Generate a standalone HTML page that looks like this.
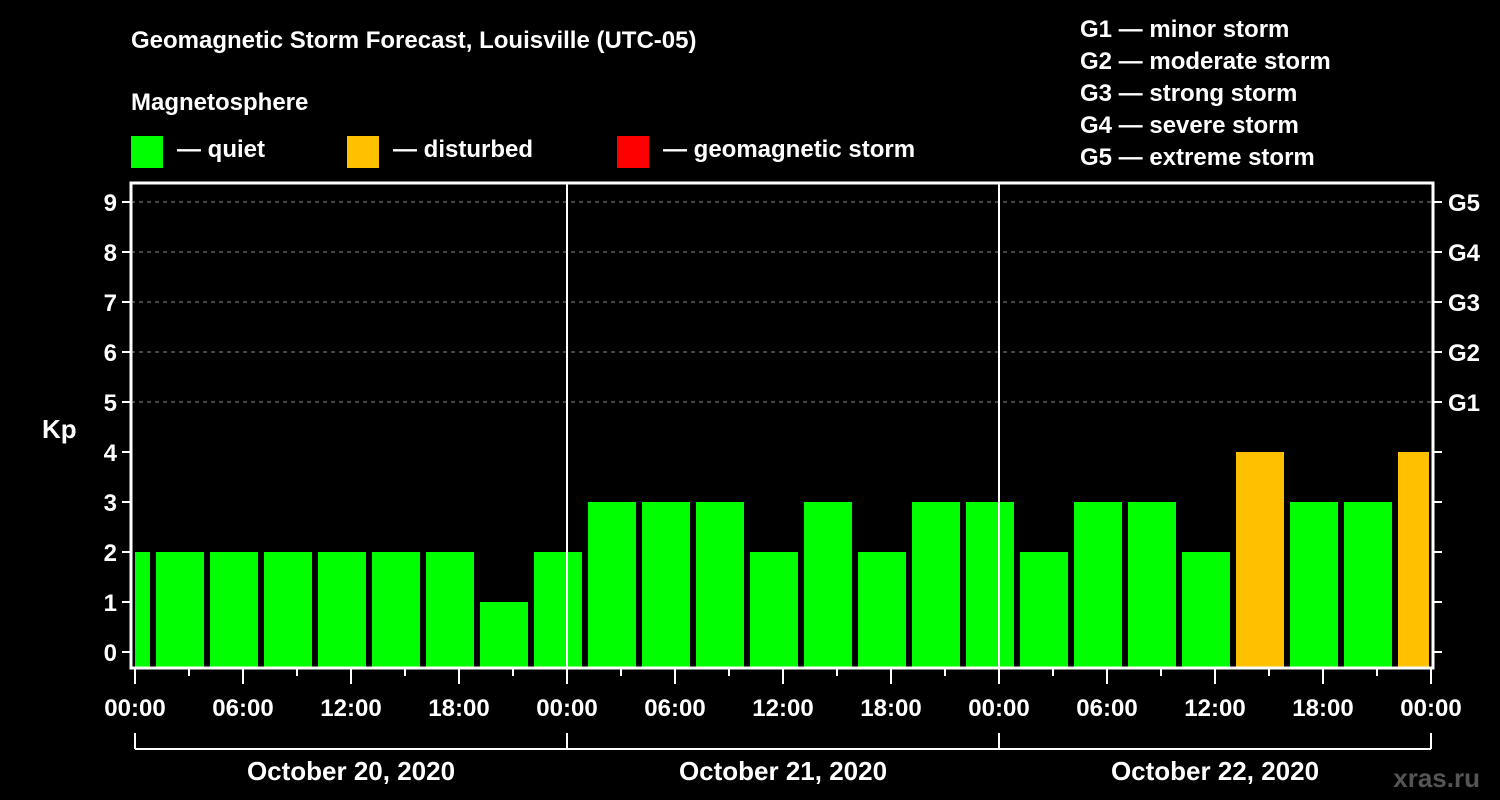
<!DOCTYPE html>
<html><head><meta charset="utf-8"><style>
body{margin:0;background:#000;}
svg{display:block;font-family:"Liberation Sans",Arial,sans-serif;font-weight:bold;}
</style></head><body>
<svg id="c" width="1500" height="800" viewBox="0 0 1500 800">
<rect width="1500" height="800" fill="#000"/>
<text x="131" y="48" fill="#fff" font-size="24">Geomagnetic Storm Forecast, Louisville (UTC-05)</text>
<text x="131" y="110" fill="#fff" font-size="24">Magnetosphere</text>
<g><rect x="131" y="136" width="32" height="32" fill="#00ff00"/><text x="177" y="157" fill="#fff" font-size="24">— quiet</text></g>
<g><rect x="347" y="136" width="32" height="32" fill="#ffc000"/><text x="393" y="157" fill="#fff" font-size="24">— disturbed</text></g>
<g><rect x="617" y="136" width="32" height="32" fill="#ff0000"/><text x="663" y="157" fill="#fff" font-size="24">— geomagnetic storm</text></g>
<g fill="#fff" font-size="24">
<text x="1080" y="37">G1 — minor storm</text>
<text x="1080" y="69">G2 — moderate storm</text>
<text x="1080" y="101">G3 — strong storm</text>
<text x="1080" y="133">G4 — severe storm</text>
<text x="1080" y="165">G5 — extreme storm</text>
</g>
<text x="42" y="438" fill="#fff" font-size="26">Kp</text>
<text x="1588" y="787" fill="#555" font-size="26" text-anchor="end" transform="translate(-108,0)">xras.ru</text>
<g id="grid"></g><g id="bars"></g><g id="axes"></g>
</svg>
<script>
const kpValues=[2,2,2,2,2,2,2,1,2,3,3,3,2,3,2,3,3,2,3,3,2,4,3,3,4];
const barStartHours=[-2,1,4,7,10,13,16,19,22,25,28,31,34,37,40,43,46,49,52,55,58,61,64,67,70];
const yTicks=[0,1,2,3,4,5,6,7,8,9];
const gLabels=[[5,"G1"],[6,"G2"],[7,"G3"],[8,"G4"],[9,"G5"]];
const dayLabels=["October 20, 2020","October 21, 2020","October 22, 2020"];
const hourLabels=["00:00","06:00","12:00","18:00"];
const NS="http://www.w3.org/2000/svg";
const X0=135,PXH=18,L=131,R=1433,T=183,B=668;
const xs=h=>X0+h*PXH, ys=v=>652-v*50;
function mk(t,a,p){const e=document.createElementNS(NS,t);for(const k in a)e.setAttribute(k,a[k]);p.appendChild(e);return e;}
const grid=document.getElementById('grid'),bars=document.getElementById('bars'),axes=document.getElementById('axes');
yTicks.forEach(v=>{
 if(v>=5){const g=mk('line',{x1:L,x2:R,y1:ys(v),y2:ys(v),stroke:'#888','stroke-dasharray':'4 4','stroke-width':1},grid);
 
 }
 mk('line',{x1:L-9,x2:L,y1:ys(v),y2:ys(v),stroke:'#fff','stroke-width':2},axes);
 mk('line',{x1:R,x2:R+9,y1:ys(v),y2:ys(v),stroke:'#fff','stroke-width':2},axes);
 const t=mk('text',{x:L-14,y:ys(v)+9,fill:'#fff','font-size':24,'text-anchor':'end'},axes);t.textContent=v;
 
 
});
gLabels.forEach(([v,s])=>{const t=mk('text',{x:1448,y:ys(v)+9,fill:'#fff','font-size':24},axes);t.textContent=s;
 
 });
kpValues.forEach((v,i)=>{
 let x1=xs(barStartHours[i])+3,x2=xs(barStartHours[i]+3)-3;
 x1=Math.max(x1,L+4);x2=Math.min(x2,R-4);
 const col=v>=5?'#ff0000':v>=4?'#ffc000':'#00ff00';
 const r=mk('rect',{x:x1,y:ys(v),width:x2-x1,height:B-ys(v),fill:col},bars);
 
 
});
[1,2].forEach(d=>mk('line',{x1:xs(d*24),x2:xs(d*24),y1:T,y2:B,stroke:'#fff','stroke-width':2},axes));
const f=mk('rect',{x:L,y:T,width:R-L,height:B-T,fill:'none',stroke:'#fff','stroke-width':3},axes);


for(let h=0;h<=72;h+=3){
 const major=h%6===0;
 mk('line',{x1:xs(h),x2:xs(h),y1:B,y2:B+(major?16:8),stroke:'#fff','stroke-width':2},axes);
 if(major){const t=mk('text',{x:xs(h),y:716,fill:'#fff','font-size':24,'text-anchor':'middle'},axes);
 t.textContent=hourLabels[(h/6)%4];
 
 }
}
mk('line',{x1:xs(0),x2:xs(72),y1:749,y2:749,stroke:'#fff','stroke-width':2},axes);
for(let d=0;d<=3;d++)mk('line',{x1:xs(d*24),x2:xs(d*24),y1:733,y2:749,stroke:'#fff','stroke-width':2},axes);
dayLabels.forEach((s,d)=>{const t=mk('text',{x:xs(d*24+12),y:780,fill:'#fff','font-size':26,'text-anchor':'middle'},axes);t.textContent=s;
 
 });
</script>
</body></html>
